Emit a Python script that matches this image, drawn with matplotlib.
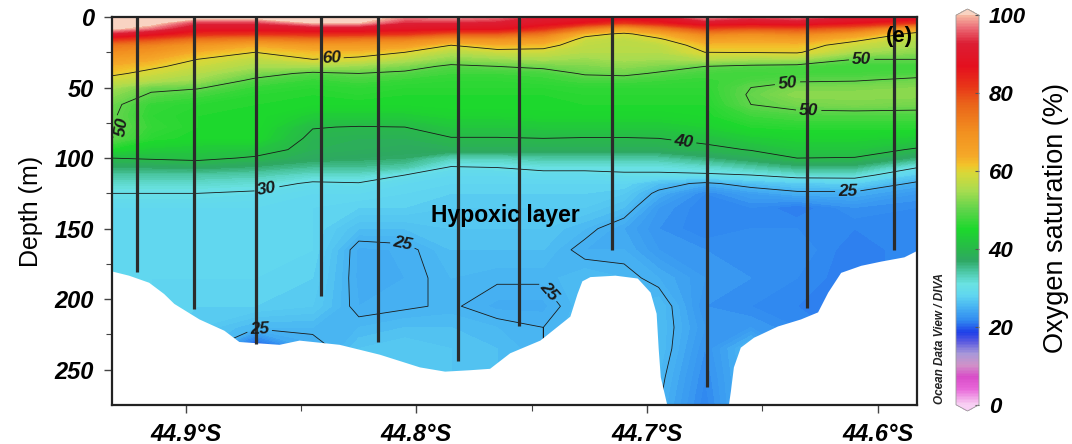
import numpy as np
import matplotlib
matplotlib.use("Agg")
import matplotlib.pyplot as plt
from matplotlib.colors import LinearSegmentedColormap, Normalize
from matplotlib.cm import ScalarMappable
from matplotlib.ticker import FixedLocator, FuncFormatter

plt.rcParams['font.family'] = ['Liberation Sans', 'DejaVu Sans']

# ---- section data -------------------------------------------------------
# grid latitudes (degrees S) and depths (m)
lat = [44.932, 44.915, 44.895, 44.870, 44.845, 44.825, 44.805, 44.785, 44.765,
       44.745, 44.727, 44.710, 44.695, 44.675, 44.655, 44.635, 44.610, 44.583]
depth = [0, 4, 8, 12, 16, 20, 25, 30, 35, 40, 45, 50, 55, 62, 70, 78, 86, 94,
         100, 106, 112, 118, 125, 135, 150, 165, 185, 205, 220, 235, 255, 280]

# oxygen saturation (%) profiles, one list per grid latitude (top -> bottom)
o2_profiles = [
    [104, 103, 101, 92, 82, 74, 70, 66, 63, 61, 58, 55, 53, 51, 50.5, 51, 50, 45, 40, 37, 34, 32, 30, 28.5, 28.5, 28.5, 28.5, 28.5, 28.5, 28.5, 28.5, 28.5],
    [104, 102, 97, 88, 79, 72, 68, 64, 61, 58.5, 56, 51, 49.5, 47, 46.5, 47, 46, 43, 40.5, 37, 34, 32, 30, 28.5, 28.5, 28.5, 28, 28, 28, 28, 28, 28],
    [102, 94, 89, 83, 74, 68, 63, 60, 58, 56, 54, 50.5, 48, 46, 45.5, 45.5, 45, 42.5, 41, 37.5, 34, 32, 30, 28.5, 28.5, 28.5, 28, 27.5, 27, 27, 27, 27],
    [102, 94, 89, 82, 72, 64, 60, 57, 55, 52, 49, 47, 46, 45.5, 45.5, 45.5, 45, 42, 39.5, 36.5, 33.5, 31.5, 29.5, 28.5, 28.5, 28.5, 28, 27.5, 25.5, 18, 18, 18],
    [103, 100, 90, 83, 74, 67, 62, 60, 55, 49, 47, 46, 45.5, 45, 43, 40.2, 39, 38.5, 37.5, 35, 32, 29.5, 28.5, 28, 28, 28, 27.5, 27, 25.5, 24, 24, 24],
    [103, 100, 90, 83, 73, 67, 62, 59, 54, 50, 48, 46.5, 46, 45, 43, 39.8, 38.5, 38, 37, 35, 32, 29.8, 28.5, 27.5, 26, 24.3, 24.3, 24.5, 25.5, 26.5, 26.5, 26.5],
    [98, 93, 89, 82, 72, 66, 60, 56, 52, 49, 47, 46, 45.5, 45, 43, 40, 38.5, 37.5, 36.5, 34, 30, 28.5, 28, 27.5, 26, 24.6, 24.5, 24.8, 26, 27, 27, 27],
    [99, 93, 88, 78, 68, 60, 56, 53, 49, 47.5, 46.5, 46, 45.5, 45.5, 44, 42, 39.8, 38, 33, 30, 28.5, 28, 27.5, 27, 26.5, 26, 25.5, 25.2, 26, 26.5, 26.5, 26.5],
    [97, 92, 88, 78, 69, 63, 58, 54, 50, 47.5, 46.5, 46, 45.5, 45.5, 44, 42, 39.8, 38, 33, 30.2, 28.5, 28, 27.5, 27, 26.5, 26, 25.2, 24.3, 25.5, 26, 26, 26],
    [92, 89, 83, 74, 67, 62, 58, 55, 51, 48, 47, 46, 45.5, 45.5, 44.5, 42.5, 40, 38, 34, 31, 29, 28, 27.5, 27, 26.5, 26, 25.2, 24.3, 25, 25, 25, 25],
    [90, 86, 74, 62, 58, 57, 56, 54, 52, 50.5, 48, 46.5, 46, 45.5, 44.5, 42.5, 39.8, 38, 34, 31, 29, 28, 27.5, 27, 25.5, 24.5, 26, 26, 26, 26, 26, 26],
    [89, 82, 67, 59, 57, 56.5, 56, 55, 53, 51, 48, 46.5, 46, 45.5, 44.5, 42.5, 39.8, 38, 34, 31, 29.5, 28, 27, 26, 24, 24.5, 25.5, 25.5, 25.5, 25.5, 25.5, 25.5],
    [90, 85, 73, 63, 59, 57, 56, 54.5, 52, 49.5, 47.5, 46.5, 46, 45.5, 44.5, 42.5, 40, 38, 34, 31, 29.5, 26, 24.5, 23, 22.5, 23, 24.5, 26, 26, 26, 25.5, 25],
    [99, 90, 81, 72, 66, 62, 60, 56, 50, 48, 47, 46.5, 46, 45.5, 45, 43.5, 41, 39, 36, 32, 29.5, 24.5, 22, 21.5, 21.5, 22.5, 23, 22.5, 23, 22.5, 22, 21.5],
    [95, 89, 79, 70, 65, 62, 60.2, 55, 49, 47.5, 48.5, 50, 50.5, 50, 47.5, 45.5, 43, 40.2, 38, 34, 30, 26, 23.5, 22, 22, 22.5, 22.5, 22, 23, 25.5, 25.5, 25.5],
    [97, 90, 80, 72, 66, 62, 60.5, 55, 48.5, 48, 49.5, 52, 53, 51.5, 48.5, 46, 44, 42, 40, 36, 31.5, 27, 24.5, 21, 22, 22.5, 22, 21.5, 22, 22, 22, 22],
    [92, 87, 77, 67, 61, 58, 55, 50, 47.5, 48, 49.8, 52, 53, 52, 48.5, 46, 44, 42, 39.8, 36, 31.5, 27.5, 24.5, 22.5, 21.5, 21, 21, 21, 21, 21, 21, 21],
    [90, 82, 66, 58, 56, 55, 53, 50, 47.5, 48.5, 51, 52.5, 53, 51.5, 48.5, 46, 43, 39.5, 36, 30.5, 27, 24.5, 23, 22, 22, 22, 22, 22, 22, 22, 22, 22],
]

# CTD stations: latitude and cast depth
station_lat = [44.9213, 44.8965, 44.8696, 44.8413, 44.8165, 44.7822,
               44.7557, 44.7152, 44.6739, 44.6309, 44.5930]
station_bottom = [181, 207, 232, 198, 230, 244, 219, 165, 262, 206, 165]

# seabed outline (latitude, depth)
seabed_lat = [44.9322, 44.9248, 44.9161, 44.9096, 44.9052, 44.8943, 44.8835,
              44.8770, 44.8596, 44.8509, 44.8335, 44.8161, 44.7987, 44.7878,
              44.7770, 44.7683, 44.7596, 44.7465, 44.7335, 44.7304, 44.7283,
              44.7248, 44.7139, 44.7043, 44.6987, 44.6961, 44.6952, 44.6943,
              44.6913, 44.6891, 44.6661, 44.6639, 44.6626, 44.6596, 44.6539,
              44.6435, 44.6335, 44.6261, 44.6217, 44.6161, 44.6074, 44.5987,
              44.5887, 44.5826]
seabed_depth = [180, 183, 188, 196, 203, 214, 222, 230, 232, 229, 232, 239,
                248, 251, 250, 249, 238, 229, 212, 196, 187, 184, 183, 185,
                195, 210, 235, 255, 276, 290, 290, 265, 248, 234, 227, 219,
                214, 209, 195, 181, 176, 173, 170, 165]

contour_levels = [25, 30, 40, 50, 60]
label_positions = {
    60: [(44.837, 30)],
    50: [(44.927, 78), (44.607, 30), (44.639, 49), (44.630, 70)],
    40: [(44.684, 87)],
    30: [(44.865, 120)],
    25: [(44.613, 122), (44.806, 163), (44.744, 196), (44.868, 219)],
}

# ---- colour scale ---------------------------------------------------------
cmap = LinearSegmentedColormap.from_list("odv_o2", [
    (0.00, "#f7cdf2"), (0.04, "#e866d8"), (0.07, "#d84cc8"), (0.10, "#d092c8"),
    (0.13, "#a898d8"), (0.16, "#5a5ae0"), (0.185, "#1e3fe8"), (0.215, "#3088f0"),
    (0.25, "#48b4f2"), (0.28, "#60d6f0"), (0.31, "#6ae2e2"), (0.34, "#4cc8a6"),
    (0.37, "#2ea862"), (0.40, "#28b84a"), (0.45, "#1cd82c"), (0.50, "#5ed44a"),
    (0.55, "#a8dc50"), (0.595, "#d8d838"), (0.615, "#f2c42a"), (0.64, "#f5a828"),
    (0.70, "#f29020"), (0.77, "#ea661a"), (0.82, "#e83418"), (0.87, "#e4101e"),
    (0.93, "#dc1e34"), (0.97, "#ec6e78"), (1.00, "#f6b6a0")])
cmap.set_over("#f9d3c2")
cmap.set_under("#f9d0f5")
norm = Normalize(0, 100)

# ---- figure ---------------------------------------------------------------
fig = plt.figure(figsize=(10.72, 4.44), dpi=100)
ax = fig.add_axes([112 / 1072, 39 / 444, 805 / 1072, 388 / 444])

LAT, DEP = np.meshgrid(lat, depth)
O2 = np.array(o2_profiles).T

ax.contourf(LAT, DEP, O2, levels=np.arange(0, 100.5, 0.5), cmap=cmap,
            norm=norm, extend='both', zorder=1)

for lev in contour_levels:
    cs = ax.contour(LAT, DEP, O2, levels=[lev], colors='#1a1a1a',
                    linewidths=0.6, zorder=2)
    texts = ax.clabel(cs, fmt='%d', manual=label_positions[lev], inline=True,
                      inline_spacing=3, fontsize=12.5)
    for t in texts:
        t.set_fontweight('bold')
        t.set_fontstyle('italic')
        t.set_zorder(4)

# seabed mask
ax.fill_between(seabed_lat, seabed_depth, 320, color='white', lw=0, zorder=2.5)

# station casts
ax.vlines(station_lat, 0, station_bottom, colors='#2b2b2b', lw=2.3, zorder=3)

ax.set_xlim(44.932, 44.583)
ax.set_ylim(275, 0)

ax.xaxis.set_major_locator(FixedLocator([44.9, 44.8, 44.7, 44.6]))
ax.xaxis.set_minor_locator(FixedLocator([44.85, 44.75, 44.65]))
ax.xaxis.set_major_formatter(FuncFormatter(lambda v, p: f"{v:.1f}°S"))
ax.yaxis.set_major_locator(FixedLocator([0, 50, 100, 150, 200, 250]))
ax.yaxis.set_minor_locator(FixedLocator([25, 75, 125, 175, 225]))

ax.tick_params(which='both', direction='out', color='#444444')
ax.tick_params(which='major', length=6, width=1.0, labelsize=17, pad=7)
ax.tick_params(which='minor', length=4, width=0.8)
for t in ax.get_xticklabels() + ax.get_yticklabels():
    t.set_fontweight('bold')
    t.set_fontstyle('italic')
for s in ax.spines.values():
    s.set_linewidth(1.6)
    s.set_color('#222222')
    s.set_zorder(5)

ax.set_ylabel("Depth (m)", fontsize=18, labelpad=8)

ax.text(44.7613, 141, "Hypoxic layer", fontsize=16.5, weight='bold',
        ha='center', va='center', zorder=4)
ax.text(44.5905, 14, "(e)", fontsize=16, weight='bold', ha='center',
        va='center', zorder=4)

fig.text(940 / 1072, 1 - 338 / 444, "Ocean Data View / DIVA", rotation=90,
         fontsize=8.5, style='italic', weight='bold', ha='center', va='center',
         color='#222222')

# colour bar
cax = fig.add_axes([956 / 1072, 33 / 444, 23 / 1072, 402 / 444])
sm = ScalarMappable(norm=norm, cmap=cmap)
cb = fig.colorbar(sm, cax=cax, extend='both', extendfrac=0.016)
cb.set_ticks([0, 20, 40, 60, 80, 100])
cb.ax.tick_params(direction='in', length=3, width=0.8, color='#555555',
                  labelsize=16, pad=7)
for t in cb.ax.get_yticklabels():
    t.set_fontweight('bold')
    t.set_fontstyle('italic')
cb.outline.set_edgecolor('#999999')
cb.outline.set_linewidth(0.6)

fig.text(1056 / 1072, 1 - 218 / 444, "Oxygen saturation (%)", rotation=90,
         fontsize=19.5, ha='center', va='center')

fig.savefig("out.png", dpi=100, facecolor='white')
